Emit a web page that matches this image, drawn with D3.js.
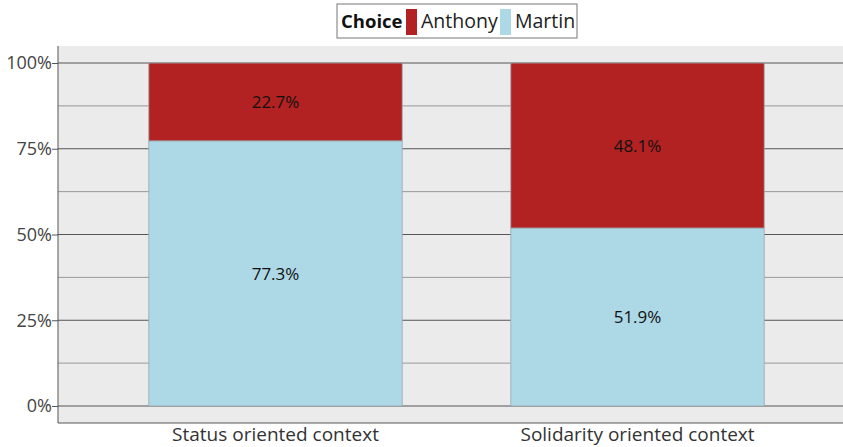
<!DOCTYPE html>
<html><head><meta charset="utf-8">
<script src="https://cdn.jsdelivr.net/npm/d3@7"></script>
<style>body{margin:0;background:#fff}svg{display:block;font-family:"Open Sans","Noto Sans",sans-serif}</style>
</head><body><svg id="c" width="843" height="447"></svg>
<script>
const categories = ["Status oriented context", "Solidarity oriented context"];
const seriesNames = ["Martin", "Anthony"];
const martin = [77.3, 51.9];
const anthony = [22.7, 48.1];
const yTicks = [0, 25, 50, 75, 100];
const minorTicks = [12.5, 37.5, 62.5, 87.5];
const colors = {Anthony: "#B22222", Martin: "#ADD8E6"};

const svg = d3.select("#c");
const panel = {x0: 58, x1: 843, y0: 46, y1: 423};
const x = d3.scaleBand().domain(categories).range([94.5, 818.5]).paddingInner(0.3).paddingOuter(0.15);
const y = d3.scaleLinear().domain([0, 100]).range([406, 63]);

svg.append("rect").attr("x", panel.x0).attr("y", panel.y0).attr("width", panel.x1 - panel.x0).attr("height", panel.y1 - panel.y0).attr("fill", "#EBEBEB");

svg.append("g").selectAll("line").data(minorTicks).join("line")
  .attr("x1", panel.x0).attr("x2", panel.x1).attr("y1", d => y(d)).attr("y2", d => y(d))
  .attr("stroke", "#999").attr("stroke-width", 1);
svg.append("g").selectAll("line").data(yTicks).join("line")
  .attr("x1", panel.x0).attr("x2", panel.x1).attr("y1", d => y(d)).attr("y2", d => y(d))
  .attr("stroke", "#555").attr("stroke-width", 1);

const stackData = categories.map((c, i) => ({cat: c, Martin: martin[i], Anthony: anthony[i]}));
const stack = d3.stack().keys(seriesNames)(stackData);

const g = svg.append("g");
stack.forEach(layer => {
  g.selectAll(null).data(layer).join("rect")
    .attr("x", d => x(d.data.cat)).attr("width", x.bandwidth())
    .attr("y", d => y(d[1])).attr("height", d => y(d[0]) - y(d[1]))
    .attr("fill", colors[layer.key]).attr("stroke", "#9aa8ad").attr("stroke-width", 0.8);
  g.selectAll(null).data(layer).join("text")
    .attr("x", d => x(d.data.cat) + x.bandwidth() / 2).attr("y", d => (y(d[0]) + y(d[1])) / 2)
    .attr("text-anchor", "middle").attr("dominant-baseline", "central")
    .attr("font-size", 17).attr("fill", "#111")
    .text(d => (d[1] - d[0]).toFixed(1) + "%");
});

// axes
const yAxis = svg.append("g").attr("transform", `translate(${panel.x0},0)`)
  .call(d3.axisLeft(y).tickValues(yTicks).tickFormat(d => d + "%").tickSize(6).tickPadding(0).tickSizeOuter(0));
yAxis.select(".domain").remove();
yAxis.selectAll("line").attr("stroke", "#555");
yAxis.selectAll("text").attr("font-size", 18).attr("fill", "#444").attr("font-family", '"Open Sans",sans-serif');
svg.append("line").attr("x1", panel.x0).attr("x2", panel.x0).attr("y1", panel.y0).attr("y2", panel.y1).attr("stroke", "#555");
svg.append("line").attr("x1", panel.x0).attr("x2", panel.x1).attr("y1", panel.y1).attr("y2", panel.y1).attr("stroke", "#555");

const xAxis = svg.append("g").attr("transform", `translate(0,${panel.y1})`)
  .call(d3.axisBottom(x).tickSize(0));
xAxis.select(".domain").remove();
xAxis.selectAll("text").attr("font-size", 19).attr("fill", "#333").attr("font-family", '"Open Sans",sans-serif').attr("y", 0).attr("dy", null).attr("dominant-baseline", "auto").attr("transform", "translate(0,18)");

// legend
const lg = svg.append("g");
lg.append("rect").attr("x", 337).attr("y", 4).attr("width", 240).attr("height", 34).attr("fill", "#fff").attr("stroke", "#777").attr("stroke-width", 1);
lg.append("text").attr("x", 341).attr("y", 28).attr("font-size", 18.5).attr("font-weight", "bold").attr("fill", "#111").text("Choice");
const legendItems = ["Anthony", "Martin"];
const lx = [406, 500];
legendItems.forEach((k, i) => {
  lg.append("rect").attr("x", lx[i]).attr("y", 9).attr("width", 11).attr("height", 26).attr("fill", colors[k]);
  lg.append("text").attr("x", lx[i] + 15).attr("y", 28).attr("font-size", 19.5).attr("fill", "#222").text(k);
});
</script></body></html>
